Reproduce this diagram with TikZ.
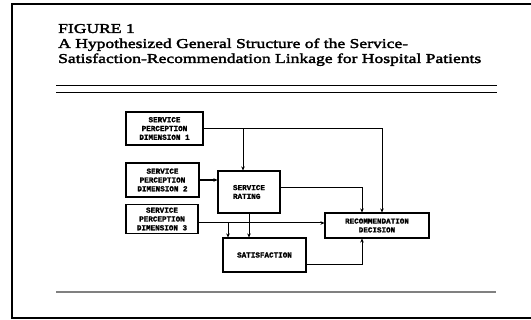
\documentclass[tikz,border=0pt]{standalone}
\usepackage{fontspec}
\usetikzlibrary{arrows.meta}
\newfontfamily\titlefont[FakeStretch=1.3,FakeBold=2.4]{Liberation Serif}
\newfontfamily\boxfont[FakeBold=1.5]{Liberation Mono}
\begin{document}
\begin{tikzpicture}[x=1pt,y=-1pt,
  blk/.style={draw,line width=1.1pt,minimum width=#1,inner sep=0pt,
    font=\boxfont\fontsize{7.6}{8.8}\selectfont\bfseries,align=center},
  link/.style={line width=1pt,-{Stealth[length=4pt,width=3.6pt]}},
  plain/.style={line width=1pt}]
\useasboundingbox (0,0) rectangle (531,320);

% page frame, open on the right
\draw[line width=1.6pt] (545,4) -- (12,4) -- (12,318) -- (545,318);

% caption
\node[anchor=base west,inner sep=0pt,font=\titlefont\fontsize{13.5}{15}\selectfont] (fig) at (58,33) {FIGURE 1};
\node[anchor=base west,inner sep=0pt,font=\titlefont\fontsize{13.5}{15}\selectfont] (cap1) at (58,48) {A Hypothesized General Structure of the Service-};
\node[anchor=base west,inner sep=0pt,font=\titlefont\fontsize{13.5}{15}\selectfont] (cap2) at (58,63) {Satisfaction-Recommendation Linkage for Hospital Patients};

% rules
\draw[line width=1pt] (56,86) -- (497,86);
\draw[line width=1pt] (56,93) -- (497,93);
\draw[line width=1.3pt,black!50] (56,292) -- (496,292);

% boxes
\node[blk=77pt,minimum height=33pt] (sp1) at (164.5,128.5) {SERVICE\\PERCEPTION\\DIMENSION 1};
\node[blk=73pt,minimum height=34pt] (sp2) at (162.5,180) {SERVICE\\PERCEPTION\\DIMENSION 2};
\node[blk=72pt,minimum height=29pt] (sp3) at (162,219) {SERVICE\\PERCEPTION\\DIMENSION 3};
\node[blk=62pt,minimum height=42pt,align=left] (sr) at (249,192) {SERVICE\\RATING};
\node[blk=104pt,minimum height=25pt] (rd) at (377,225.5) {RECOMMENDATION\\DECISION};
\node[blk=83pt,minimum height=34pt] (sat) at (264.5,255) {SATISFACTION};

% connector ends
\coordinate (srin) at ([xshift=-6pt]sr.north);
\coordinate (rdinA) at ([xshift=5pt]rd.north);
\coordinate (rdinB) at ([xshift=-15pt]rd.north);
\coordinate (rdinC) at ([xshift=-15pt]rd.south);
\coordinate (satin) at ([xshift=-36.5pt]sat.north);
\coordinate (srout) at ([yshift=4pt]sr.east);
\coordinate (sp3out) at ([yshift=-4pt]sp3.east);
\coordinate (satout) at ([yshift=-10pt]sat.east);

% connectors
\draw[link] (sp1.east) -| (rdinA);
\draw[link] (srin |- sp1.east) -- (srin);
\draw[link,line width=1.8pt] (sp2.east) -- (sp2.east -| sr.west);
\draw[link] (srout) -| (rdinB);
\draw[link] (sp3out) -- (sp3out -| rd.west);
\draw[link] (satin |- sp3out) -- (satin);
\draw[link] (sr.south) -- (sr.south |- sat.north);
\draw[link] (satout) -| (rdinC);
\end{tikzpicture}
\end{document}
